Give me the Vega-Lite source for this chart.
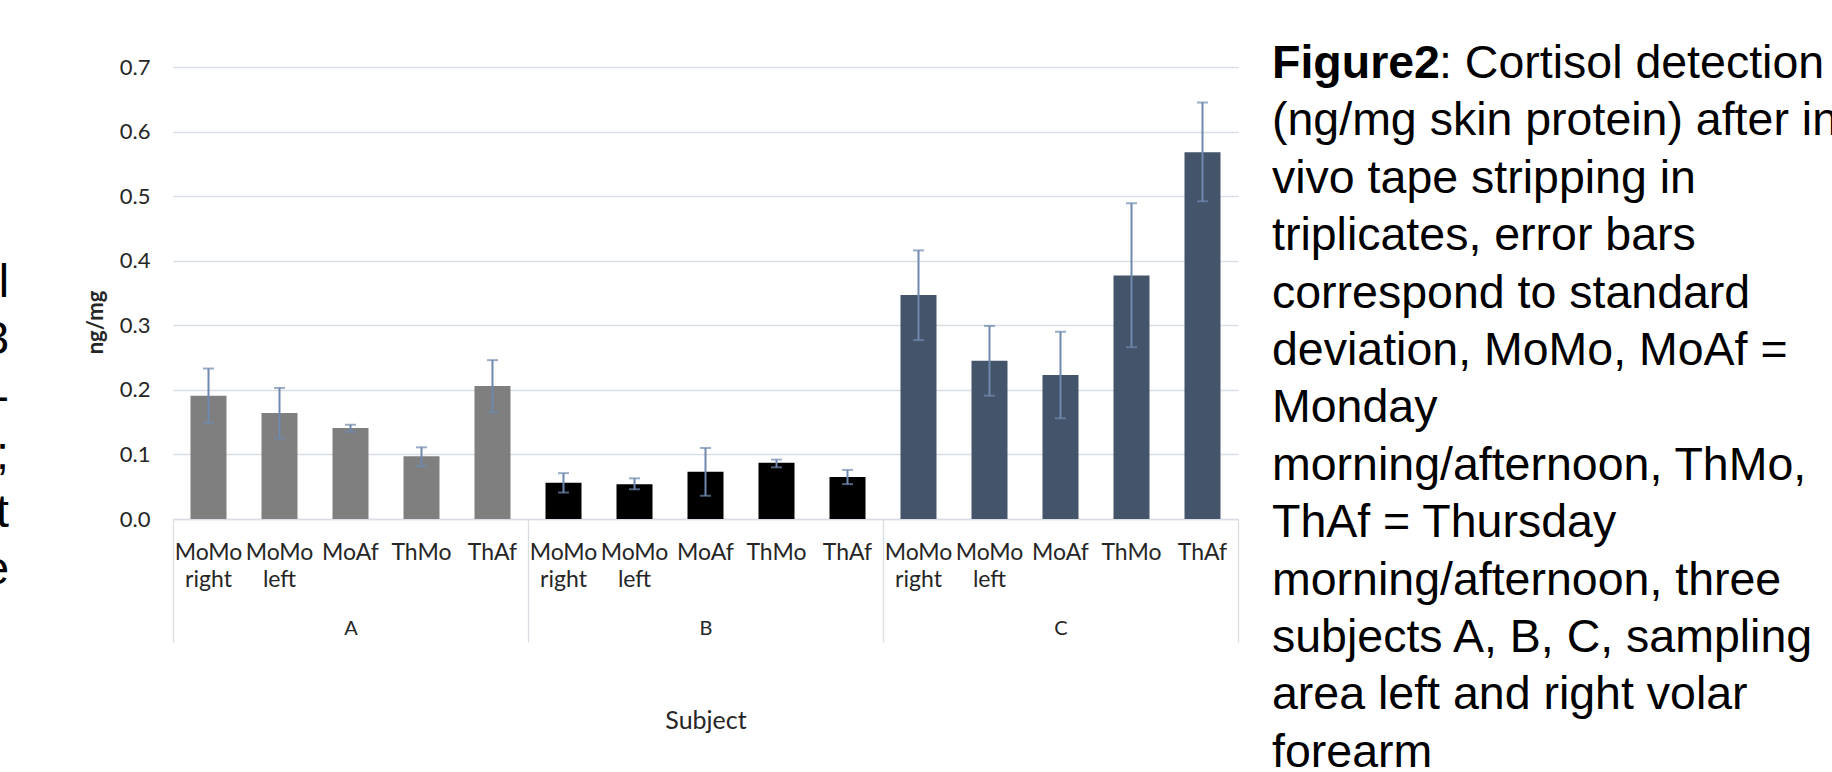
{
  "$schema": "https://vega.github.io/schema/vega-lite/v6.json",
  "autosize": {"type": "none"},
  "padding": {"left": 0, "top": 67, "right": 1832, "bottom": 705},
  "background": "white",
  "config": {"view": {"stroke": null}, "font": "Lato"},
  "datasets": {
    "cortisol": [
      {"subject": "A", "condition": "MoMo right", "slot": "A MoMo right", "mean": 0.191, "lo": 0.149, "hi": 0.233},
      {"subject": "A", "condition": "MoMo left", "slot": "A MoMo left", "mean": 0.164, "lo": 0.125, "hi": 0.203},
      {"subject": "A", "condition": "MoAf", "slot": "A MoAf", "mean": 0.141, "lo": 0.135, "hi": 0.146},
      {"subject": "A", "condition": "ThMo", "slot": "A ThMo", "mean": 0.097, "lo": 0.082, "hi": 0.111},
      {"subject": "A", "condition": "ThAf", "slot": "A ThAf", "mean": 0.206, "lo": 0.165, "hi": 0.246},
      {"subject": "B", "condition": "MoMo right", "slot": "B MoMo right", "mean": 0.056, "lo": 0.041, "hi": 0.071},
      {"subject": "B", "condition": "MoMo left", "slot": "B MoMo left", "mean": 0.054, "lo": 0.046, "hi": 0.063},
      {"subject": "B", "condition": "MoAf", "slot": "B MoAf", "mean": 0.073, "lo": 0.036, "hi": 0.110},
      {"subject": "B", "condition": "ThMo", "slot": "B ThMo", "mean": 0.087, "lo": 0.080, "hi": 0.092},
      {"subject": "B", "condition": "ThAf", "slot": "B ThAf", "mean": 0.065, "lo": 0.054, "hi": 0.076},
      {"subject": "C", "condition": "MoMo right", "slot": "C MoMo right", "mean": 0.347, "lo": 0.277, "hi": 0.416},
      {"subject": "C", "condition": "MoMo left", "slot": "C MoMo left", "mean": 0.245, "lo": 0.191, "hi": 0.299},
      {"subject": "C", "condition": "MoAf", "slot": "C MoAf", "mean": 0.223, "lo": 0.156, "hi": 0.290},
      {"subject": "C", "condition": "ThMo", "slot": "C ThMo", "mean": 0.377, "lo": 0.266, "hi": 0.489},
      {"subject": "C", "condition": "ThAf", "slot": "C ThAf", "mean": 0.568, "lo": 0.492, "hi": 0.645}
    ],
    "margin": [
      {"row": 0, "tail": "l"},
      {"row": 1, "tail": "3"},
      {"row": 2, "tail": "-"},
      {"row": 3, "tail": ";"},
      {"row": 4, "tail": "t"},
      {"row": 5, "tail": "e"}
    ],
    "lead": [{"line": 0, "text": "Figure2"}],
    "leadRest": [{"line": 0, "text": ": Cortisol detection"}],
    "caption": [
      {"line": 1, "text": "(ng/mg skin protein) after in"},
      {"line": 2, "text": "vivo tape stripping in"},
      {"line": 3, "text": "triplicates, error bars"},
      {"line": 4, "text": "correspond to standard"},
      {"line": 5, "text": "deviation, MoMo, MoAf ="},
      {"line": 6, "text": "Monday"},
      {"line": 7, "text": "morning/afternoon, ThMo,"},
      {"line": 8, "text": "ThAf = Thursday"},
      {"line": 9, "text": "morning/afternoon, three"},
      {"line": 10, "text": "subjects A, B, C, sampling"},
      {"line": 11, "text": "area left and right volar"},
      {"line": 12, "text": "forearm"}
    ]
  },
  "bounds": "flush",
  "spacing": 34,
  "hconcat": [
    {
      "width": 139,
      "height": 540,
      "data": {"name": "margin"},
      "mark": {"type": "text", "align": "right", "baseline": "alphabetic", "font": "Liberation Sans", "fontSize": 46.5, "color": "#000000", "clip": true},
      "encoding": {
        "x": {"datum": 1, "type": "quantitative", "scale": {"domain": [0, 1], "range": [0, 9]}, "axis": null},
        "y": {"field": "row", "type": "quantitative", "scale": {"domain": [0, 5], "range": [230, 517]}, "axis": null},
        "text": {"field": "tail"}
      }
    },
    {
      "width": 1065,
      "height": 452,
      "data": {"name": "cortisol"},
      "resolve": {"axis": {"x": "independent"}},
      "layer": [
        {
          "mark": {"type": "bar", "width": {"band": 0.507}},
          "encoding": {
            "x": {
              "field": "slot", "type": "nominal", "sort": null,
              "scale": {"type": "band", "paddingInner": 0, "paddingOuter": 0},
              "axis": {
                "orient": "bottom", "title": null, "grid": false, "ticks": false,
                "domain": true, "domainColor": "#D9DDE4", "domainWidth": 1.3,
                "labelExpr": "split(substring(datum.label, 2), ' ')",
                "labelAngle": 0, "labelOverlap": false, "labelFont": "Lato", "labelFontSize": 23,
                "labelLineHeight": 27, "labelPadding": 22, "labelColor": "#262626"
              }
            },
            "y": {
              "field": "mean", "type": "quantitative", "title": "ng/mg",
              "scale": {"domain": [0, 0.7], "nice": false},
              "axis": {
                "values": [0, 0.1, 0.2, 0.3, 0.4, 0.5, 0.6, 0.7], "format": ".1f",
                "grid": true, "gridColor": "#D9DDE4", "gridWidth": 1.3,
                "domain": false, "ticks": false, "labelPadding": 23,
                "labelFont": "Lato", "labelFontSize": 22, "labelColor": "#262626",
                "titleFont": "Lato", "titleFontSize": 22, "titleFontWeight": "bold", "titleColor": "#262626",
                "titleX": -78, "titleY": 255, "titleAngle": -90, "titleAlign": "center", "titleBaseline": "middle"
              }
            },
            "color": {
              "field": "subject", "type": "nominal",
              "scale": {"domain": ["A", "B", "C"], "range": ["#7F7F7F", "#000000", "#44546A"]},
              "legend": null
            }
          }
        },
        {
          "mark": {"type": "rule", "color": "#6F89AE", "strokeWidth": 2},
          "encoding": {
            "x": {
              "field": "slot", "type": "nominal", "sort": null,
              "scale": {"type": "band", "paddingInner": 0, "paddingOuter": 0},
              "axis": {
                "orient": "bottom", "title": "Subject", "grid": false, "domain": false,
                "values": ["A MoAf", "B MoAf", "C MoAf"],
                "ticks": true, "tickSize": 123, "tickColor": "#D9DDE4", "tickWidth": 1.3,
                "tickOffset": -177.5, "labelOffset": 177.5,
                "labelExpr": "substring(datum.label, 0, 1)",
                "labelAngle": 0, "labelOverlap": false, "labelFont": "Lato", "labelFontSize": 20,
                "labelPadding": -24, "labelColor": "#262626",
                "titleFont": "Lato", "titleFontSize": 25, "titleFontWeight": "normal", "titleColor": "#262626",
                "titlePadding": 66
              }
            },
            "y": {"field": "lo", "type": "quantitative", "title": "ng/mg"},
            "y2": {"field": "hi"}
          }
        },
        {
          "mark": {"type": "tick", "color": "#6F89AE", "size": 11, "thickness": 2},
          "encoding": {
            "x": {
              "field": "slot", "type": "nominal", "sort": null,
              "scale": {"type": "band", "paddingInner": 0, "paddingOuter": 0},
              "axis": {
                "orient": "bottom", "title": null, "grid": false, "domain": false, "labels": false,
                "values": ["C ThAf"], "bandPosition": 1,
                "ticks": true, "tickSize": 123, "tickColor": "#D9DDE4", "tickWidth": 1.3
              }
            },
            "y": {"field": "lo", "type": "quantitative", "title": "ng/mg"}
          }
        },
        {
          "mark": {"type": "tick", "color": "#6F89AE", "size": 11, "thickness": 2},
          "encoding": {
            "x": {
              "field": "slot", "type": "nominal", "sort": null,
              "scale": {"type": "band", "paddingInner": 0, "paddingOuter": 0},
              "axis": null
            },
            "y": {"field": "hi", "type": "quantitative", "title": "ng/mg"}
          }
        }
      ]
    },
    {
      "width": 560,
      "height": 452,
      "layer": [
        {
          "data": {"name": "lead"},
          "mark": {"type": "text", "align": "left", "baseline": "alphabetic", "font": "Liberation Sans", "fontSize": 46.5, "fontWeight": "bold", "color": "#000000"},
          "encoding": {
            "x": {"datum": 0, "type": "quantitative", "scale": {"domain": [0, 1]}, "axis": null},
            "y": {"field": "line", "type": "quantitative", "scale": {"domain": [0, 12], "range": [11, 699.8]}, "axis": null},
            "text": {"field": "text"}
          }
        },
        {
          "data": {"name": "leadRest"},
          "mark": {"type": "text", "align": "left", "baseline": "alphabetic", "font": "Liberation Sans", "fontSize": 46.5, "color": "#000000", "dx": 167},
          "encoding": {
            "x": {"datum": 0, "type": "quantitative", "scale": {"domain": [0, 1]}, "axis": null},
            "y": {"field": "line", "type": "quantitative", "scale": {"domain": [0, 12], "range": [11, 699.8]}, "axis": null},
            "text": {"field": "text"}
          }
        },
        {
          "data": {"name": "caption"},
          "mark": {"type": "text", "align": "left", "baseline": "alphabetic", "font": "Liberation Sans", "fontSize": 46.5, "color": "#000000"},
          "encoding": {
            "x": {"datum": 0, "type": "quantitative", "scale": {"domain": [0, 1]}, "axis": null},
            "y": {"field": "line", "type": "quantitative", "scale": {"domain": [0, 12], "range": [11, 699.8]}, "axis": null},
            "text": {"field": "text"}
          }
        }
      ]
    }
  ]
}
